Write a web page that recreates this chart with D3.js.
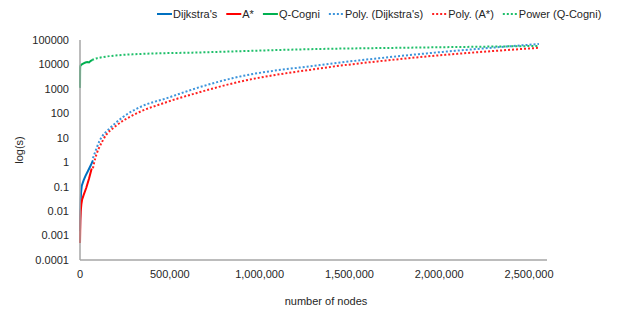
<!DOCTYPE html>
<meta charset="utf-8" />
<style>
  body { margin: 0; background: #fff; }
  text { font-family: 'Liberation Sans', Arial, sans-serif; font-size: 11px; fill: #262626; }
  .axis-line { stroke: #a6a6a6; stroke-width: 1.5px; }
  .line { fill: none; stroke-width: 2px; }
  .trend { fill: none; stroke-width: 2px; stroke-dasharray: 2,2; }
</style>
<svg width="634" height="312"></svg>
<script src="https://d3js.org/d3.v7.min.js"></script>
<script>
  // measured series (number of nodes -> seconds)
  var dijkstraNodes = [0, 1000, 2000, 4000, 6000, 10000, 20000, 30000, 45000, 60000, 72000];
  var dijkstraVals = [0.0015, 0.005, 0.01, 0.03, 0.06, 0.11, 0.18, 0.27, 0.45, 0.75, 1.2];

  var astarNodes = [0, 2000, 4000, 8000, 12000, 20000, 35000, 50000, 65000];
  var astarVals = [0.0005, 0.004, 0.01, 0.02, 0.03, 0.045, 0.09, 0.21, 0.55];

  var qcogniNodes = [0, 500, 1000, 3000, 6000, 10000, 20000, 30000, 40000, 50000, 60000, 68000];
  var qcogniVals = [1100, 5000, 8000, 9000, 9500, 10000, 11000, 12000, 12500, 12000, 14000, 15000];

  // trendlines
  var polyDijkstraNodes = [72000, 111000, 167000, 239000, 334000, 484000, 668000, 852000, 1336000, 1781000, 2555000];
  var polyDijkstraVals = [1.46, 8, 24.7, 70, 180, 420, 1190, 2770, 9450, 22100, 68600];

  var polyAstarNodes = [72000, 78000, 128000, 206000, 295000, 484000, 668000, 852000, 1336000, 1781000, 2555000];
  var polyAstarVals = [0.57, 0.91, 8, 33, 84, 290, 740, 1700, 6900, 16600, 48000];

  var powerQcogniNodes = [67000, 95000, 295000, 668000, 1336000, 1781000, 2555000];
  var powerQcogniVals = [15000, 18000, 26000, 31000, 43000, 48000, 57000];

  var yTicks = [0.0001, 0.001, 0.01, 0.1, 1, 10, 100, 1000, 10000, 100000];
  var yTickLabels = ['0.0001', '0.001', '0.01', '0.1', '1', '10', '100', '1000', '10000', '100000'];
  var xTicks = [0, 500000, 1000000, 1500000, 2000000, 2500000];

  var series = [
    { name: "Dijkstra's", nodes: dijkstraNodes, vals: dijkstraVals, color: '#0070c0', cls: 'line' },
    { name: 'A*', nodes: astarNodes, vals: astarVals, color: '#ff0000', cls: 'line' },
    { name: 'Q-Cogni', nodes: qcogniNodes, vals: qcogniVals, color: '#00b050', cls: 'line' },
    { name: "Poly. (Dijkstra's)", nodes: polyDijkstraNodes, vals: polyDijkstraVals, color: '#3d94db', cls: 'trend' },
    { name: 'Poly. (A*)', nodes: polyAstarNodes, vals: polyAstarVals, color: '#ff2020', cls: 'trend' },
    { name: 'Power (Q-Cogni)', nodes: powerQcogniNodes, vals: powerQcogniVals, color: '#1fbf6a', cls: 'trend' },
  ];

  var svg = d3.select('svg');
  var x = d3.scaleLinear().domain([0, 2600000]).range([80, 547]);
  var y = d3.scaleLog().domain([0.0001, 100000]).range([260, 40]);

  // y tick labels
  svg.append('g')
    .selectAll('text')
    .data(yTicks)
    .enter()
    .append('text')
    .attr('x', 69)
    .attr('y', (d) => y(d))
    .attr('dy', '0.35em')
    .attr('text-anchor', 'end')
    .text((d, i) => yTickLabels[i]);

  // x tick labels
  svg.append('g')
    .selectAll('text')
    .data(xTicks)
    .enter()
    .append('text')
    .attr('x', (d) => x(d))
    .attr('y', 274)
    .attr('dy', '0.35em')
    .attr('text-anchor', 'middle')
    .text(d3.format(','));

  var line = d3.line()
    .x((d) => x(d[0]))
    .y((d) => y(d[1]));
  var smooth = d3.line()
    .curve(d3.curveMonotoneX)
    .x((d) => x(d[0]))
    .y((d) => y(d[1]));

  // trendlines under data
  series.slice(3).concat(series.slice(0, 3)).forEach(function (s) {
    var pts = s.nodes.map((n, i) => [n, s.vals[i]]);
    svg.append('path')
      .attr('class', s.cls)
      .attr('stroke', s.color)
      .attr('d', s.cls == 'trend' ? smooth(pts) : line(pts));
  });

  // axis lines
  svg.append('line').attr('class', 'axis-line')
    .attr('x1', 80).attr('x2', 80).attr('y1', y(100000)).attr('y2', y(0.0001));
  svg.append('line').attr('class', 'axis-line')
    .attr('x1', x(0)).attr('x2', x(2600000)).attr('y1', y(0.0001)).attr('y2', y(0.0001));

  // axis titles
  svg.append('text')
    .attr('transform', 'translate(23,150) rotate(-90)')
    .attr('text-anchor', 'middle')
    .text('log(s)');
  svg.append('text')
    .attr('x', 326)
    .attr('y', 301)
    .attr('dy', '0.35em')
    .attr('text-anchor', 'middle')
    .text('number of nodes');

  // legend
  var lx = 157;
  series.forEach(function (s) {
    var g = svg.append('g');
    g.append('line')
      .attr('class', s.cls)
      .attr('stroke', s.color)
      .attr('x1', lx).attr('x2', lx + 15)
      .attr('y1', 14).attr('y2', 14);
    var t = g.append('text')
      .attr('x', lx + 16)
      .attr('y', 14)
      .attr('dy', '0.35em')
      .text(s.name);
    lx += 16 + t.node().getComputedTextLength() + 9;
  });
</script>
